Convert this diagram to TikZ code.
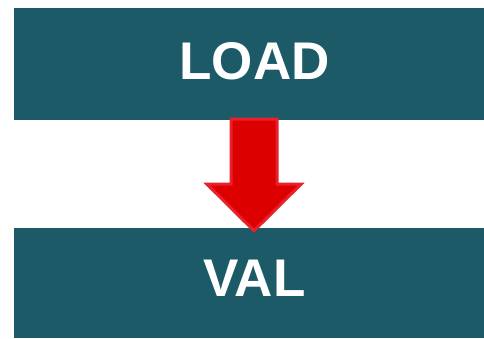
\documentclass[tikz,border=0pt]{standalone}
\usepackage{fontspec}
\setmainfont{Liberation Sans}
\usetikzlibrary{calc}
\definecolor{stage}{HTML}{1B5A66}
\definecolor{arrfill}{HTML}{DD0000}
\definecolor{arredge}{HTML}{E8202A}
\tikzset{
  box/.style={rectangle,fill=stage,draw=none,minimum width=470pt,inner sep=0pt},
  lbl/.style={text=white,font=\fontsize{53}{53}\selectfont\bfseries,inner sep=0pt},
  blk/.style={fill=arrfill,draw=arredge,line width=3pt,line join=miter},
}
\begin{document}
\begin{tikzpicture}[x=1pt,y=-1pt]
\useasboundingbox (0,0) rectangle (484,338);
\node[box,minimum height=112pt] (load) at (249,64){};
\node[box,minimum height=110pt] (val) at (249,283){};
\node[lbl] (loadtxt) at (254.5,61.5){LOAD};
\node[lbl] (valtxt) at (254.5,278){VAL};
% block arrow from LOAD down to VAL
\draw[blk] ($(load.south)+(-18,-1)$) -- ($(load.south)+(28,-1)$) -- ($(load.south)+(28,64)$)
  -- ($(load.south)+(52,64)$) -- ($(val.north)+(5,3)$) -- ($(load.south)+(-42,64)$)
  -- ($(load.south)+(-18,64)$) -- cycle;
\end{tikzpicture}
\end{document}
